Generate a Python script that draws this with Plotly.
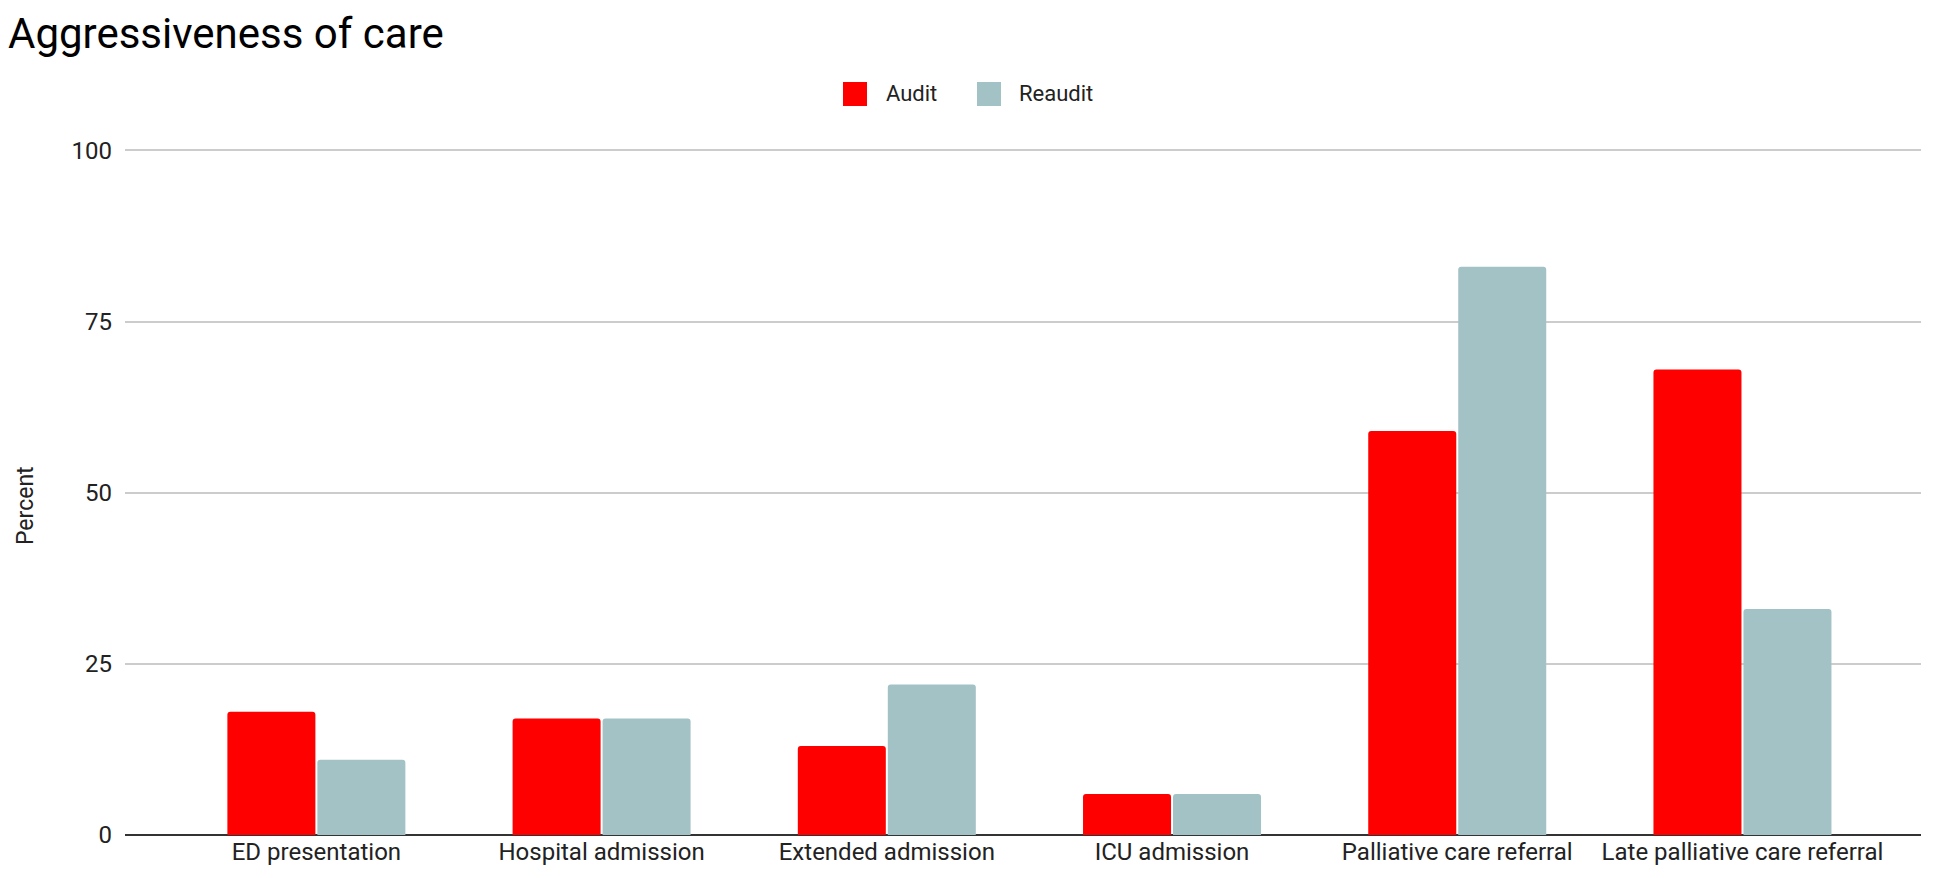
import plotly.graph_objects as go

categories = ["ED presentation", "Hospital admission", "Extended admission",
              "ICU admission", "Palliative care referral", "Late palliative care referral"]
audit = [18, 17, 13, 6, 59, 68]
reaudit = [11, 17, 22, 6, 83, 33]
series_names = ["Audit", "Reaudit"]
series_colors = ["#ff0000", "#a3c2c6"]
y_ticks = [0, 25, 50, 75, 100]

FONT = "Roboto"
TXT = "#222222"
W, H = 1946, 878
OFF = 8  # page body margin offset
L, R, T, B = 125 - OFF, 25 + OFF, 149 - OFF, 43 + OFF
PW, PH = W - L - R, H - T - B

fig = go.Figure()
for name, vals, col in zip(series_names, [audit, reaudit], series_colors):
    fig.add_trace(go.Bar(name=name, x=categories, y=vals, showlegend=False,
                         marker=dict(color=col, cornerradius=3, line=dict(width=0))))

# custom legend (larger swatches than plotly's native legend allows)
def px_x(p):
    return (p - OFF - L) / PW

def px_y(p):
    return (H - B - (p - OFF)) / PH

legend_items = [(843, 886), (977, 1019)]
shapes = []
annotations = []
for (sx, tx), name, col in zip(legend_items, series_names, series_colors):
    shapes.append(dict(type="rect", xref="paper", yref="paper",
                       x0=px_x(sx), x1=px_x(sx + 24), y0=px_y(106), y1=px_y(82),
                       fillcolor=col, line=dict(width=0), layer="above"))
    annotations.append(dict(text=name, xref="paper", yref="paper", x=px_x(tx - 2), y=px_y(94),
                            xanchor="left", yanchor="middle", showarrow=False,
                            font=dict(family=FONT, size=22, color=TXT)))

# y-axis title placed as a rotated annotation
annotations.append(dict(text="Percent", xref="paper", yref="paper", x=px_x(25), y=px_y(506),
                        xanchor="center", yanchor="middle", showarrow=False, textangle=-90,
                        font=dict(family=FONT, size=23, color=TXT)))

fig.update_layout(
    width=W, height=H,
    paper_bgcolor="white", plot_bgcolor="white",
    font=dict(family=FONT, size=22, color=TXT),
    title=dict(text="Aggressiveness of care", x=0.0, xanchor="left", xref="container",
               y=0.988, yanchor="top", yref="container", pad=dict(t=0, l=0),
               font=dict(family=FONT, size=42, color="#000000")),
    margin=dict(l=L, r=R, t=T, b=B, autoexpand=False),
    barmode="group", bargap=0.369, bargroupgap=0.022,
    showlegend=False,
    shapes=shapes, annotations=annotations,
    xaxis=dict(type="category", range=[-0.671, 5.626], showgrid=False, automargin=False,
               showline=False, ticks="", tickfont=dict(size=24, color=TXT)),
    yaxis=dict(range=[0, 100.2], tickvals=y_ticks, showgrid=True, gridcolor="#cccccc",
               gridwidth=1.5, zeroline=True, zerolinecolor="#333333", zerolinewidth=2,
               automargin=False, ticks="", ticklabelstandoff=12,
               tickfont=dict(size=24, color=TXT)),
)
fig.write_html("out.html")
